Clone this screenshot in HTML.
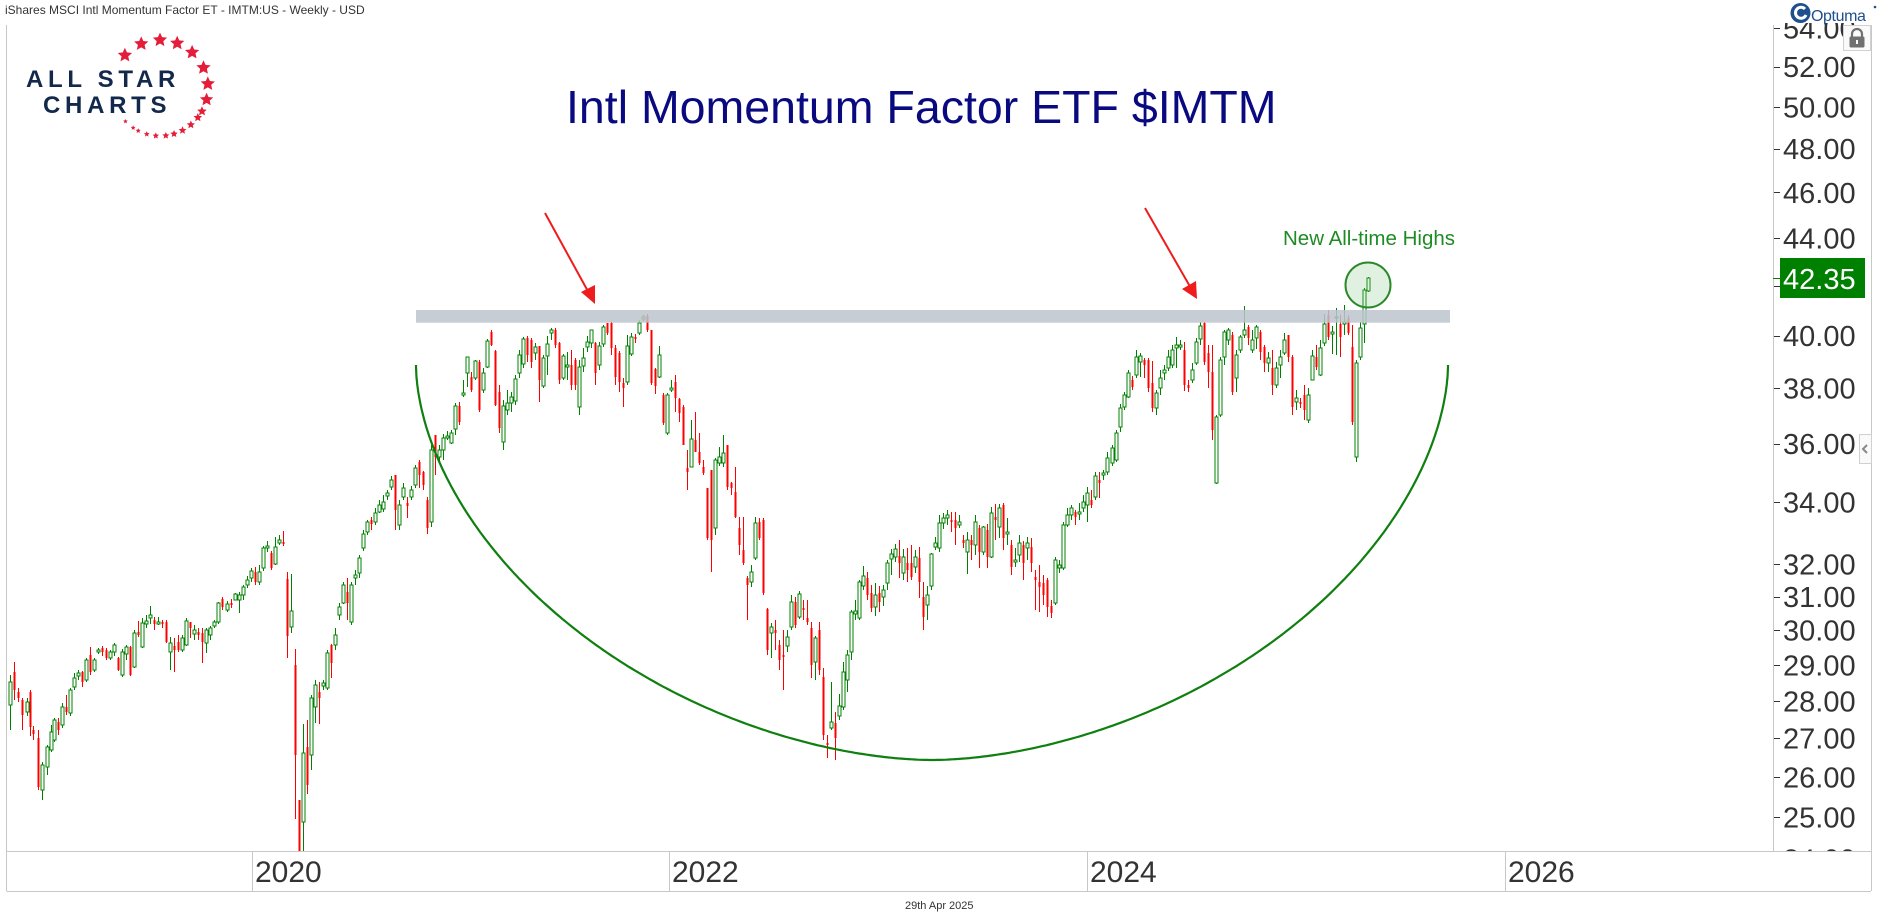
<!DOCTYPE html>
<html>
<head>
<meta charset="utf-8">
<style>
html,body{margin:0;padding:0;background:#fff;}
body{width:1878px;height:924px;overflow:hidden;position:relative;}
svg{position:absolute;left:0;top:0;}
</style>
</head>
<body>
<svg id="chart" width="1878" height="924" viewBox="0 0 1878 924">
  <defs>
    <clipPath id="plot"><rect x="7" y="25" width="1766" height="826"/></clipPath>
    <clipPath id="yax"><rect x="1774" y="23" width="97" height="828"/></clipPath>
  </defs>
  <rect x="0" y="0" width="1878" height="924" fill="#fff"/>
  <!-- header text -->
  <text x="5" y="14" font-family="Liberation Sans, sans-serif" font-size="12" fill="#333">iShares MSCI Intl Momentum Factor ET - IMTM:US - Weekly - USD</text>

  <!-- frame -->
  <g stroke="#c8c8c8" stroke-width="1" fill="none">
    <line x1="6.5" y1="25" x2="6.5" y2="891"/>
    <line x1="1773.5" y1="25" x2="1773.5" y2="851"/>
    <line x1="6.5" y1="851.5" x2="1871" y2="851.5"/>
    <line x1="6.5" y1="891.5" x2="1871" y2="891.5"/>
    <line x1="1871.5" y1="25" x2="1871.5" y2="891"/>
    <line x1="252.5" y1="851" x2="252.5" y2="891"/>
    <line x1="669.5" y1="851" x2="669.5" y2="891"/>
    <line x1="1087.5" y1="851" x2="1087.5" y2="891"/>
    <line x1="1505.5" y1="851" x2="1505.5" y2="891"/>
  </g>
  <g font-family="Liberation Sans, sans-serif" font-size="30" fill="#333">
    <text x="255" y="882">2020</text>
    <text x="672" y="882">2022</text>
    <text x="1090" y="882">2024</text>
    <text x="1508" y="882">2026</text>
  </g>
  <text x="905" y="909" font-family="Liberation Sans, sans-serif" font-size="11" fill="#333">29th Apr 2025</text>

  <!-- y axis -->
  <g id="yaxis"></g>

  <!-- logo -->
  <g id="stars" fill="#e41e3a"></g>
  <g font-family="Liberation Sans, sans-serif" font-weight="bold" font-size="24" fill="#13294b" letter-spacing="4.7">
    <text x="26" y="87">ALL STAR</text>
    <text x="43" y="113">CHARTS</text>
  </g>

  <!-- title -->
  <text x="566" y="123" font-family="Liberation Sans, sans-serif" font-size="46.5" fill="#0a0a80">Intl Momentum Factor ETF $IMTM</text>

  <!-- candles -->
  <g id="candles" clip-path="url(#plot)" shape-rendering="crispEdges"></g>

  <!-- arc -->
  <path id="arc" fill="none" stroke="#0f7f0f" stroke-width="2.2"/>

  <!-- band -->
  <rect x="416" y="310" width="1034" height="12.7" fill="rgb(188,196,206)" fill-opacity="0.85"/>

  <!-- arrows -->
  <g stroke="#ee1c1c" stroke-width="2" fill="#ee1c1c">
    <line x1="545" y1="213" x2="590" y2="295"/>
    <polygon points="595,304 581,292 595,285" stroke="none"/>
    <line x1="1145" y1="208" x2="1192" y2="290"/>
    <polygon points="1197,299 1182,289 1196,281" stroke="none"/>
  </g>

  <!-- ATH annotation -->
  <circle cx="1368" cy="285" r="22.5" fill="rgba(120,190,120,0.22)" stroke="#2a8a2a" stroke-width="2"/>
  <text x="1283" y="245" font-family="Liberation Sans, sans-serif" font-size="20.5" fill="#1f8b24">New All-time Highs</text>

  <!-- price label -->
  <line x1="1773" y1="278.5" x2="1780" y2="278.5" stroke="#008000" stroke-width="1"/>
  <rect x="1780" y="258" width="85" height="40" fill="#008000"/>
  <text x="1783" y="289" font-family="Liberation Sans, sans-serif" font-size="29" fill="#fff">42.35</text>

  <!-- lock -->
  <rect x="1843.5" y="25.5" width="27" height="25" fill="#fafafa" stroke="#d0d0d0"/>
  <path d="M1852,37 v-3 a5,5 0 0 1 10,0 v3" fill="none" stroke="#707070" stroke-width="2.2"/>
  <rect x="1849.5" y="36.5" width="15" height="11" rx="1.5" fill="#707070"/>
  <rect x="1856" y="40" width="2" height="4" fill="#fafafa"/>

  <!-- collapse tab -->
  <rect x="1859.5" y="434.5" width="12" height="29" fill="#fafafa" stroke="#d0d0d0"/>
  <path d="M1867,445 l-4,4 l4,4" fill="none" stroke="#888" stroke-width="2"/>

  <!-- optuma -->
  <circle cx="1800.5" cy="13" r="10" fill="#1e4f8e"/>
  <path d="M1805,9 a5.5,5.5 0 1 0 1,6" fill="none" stroke="#fff" stroke-width="3"/>
  <text x="1811" y="21" font-family="Liberation Sans, sans-serif" font-size="16" fill="#1e4f8e" letter-spacing="-0.4">Optuma</text>
  <circle cx="1875" cy="7" r="1.3" fill="#1e4f8e"/>
</svg>
<script>
(function(){
var D="10,682,705,1,675,730;14,672,690,0,662,700;18,692,698,0,688,702;22,700,715,0,698,730;27,702,712,1,698,716;30,692,727,0,690,736;33,730,734,0,726,740;38,738,787,0,730,790;42,765,790,1,762,800;47,747,767,1,745,775;51,732,750,1,725,752;54,720,740,1,718,742;58,722,730,0,718,735;62,707,725,1,703,728;66,707,712,0,695,715;70,690,713,1,688,716;74,678,687,1,673,690;78,673,676,1,670,680;82,672,682,0,671,687;86,660,680,1,658,682;90,655,672,0,647,675;94,660,670,1,658,672;98,650,652,1,648,654;102,648,652,0,646,656;106,650,658,0,648,660;110,652,658,1,650,660;114,645,652,1,643,656;118,658,670,0,657,671;122,652,675,1,649,677;126,647,654,1,645,660;130,647,675,0,646,676;134,633,667,1,630,668;138,632,635,0,621,637;142,623,647,1,618,648;146,621,624,1,615,628;150,615,618,1,606,624;154,620,624,0,617,630;158,622,624,1,617,625;162,622,624,0,620,628;166,622,642,0,620,643;170,643,652,1,637,670;174,646,650,0,638,672;178,642,650,0,635,652;182,638,650,1,635,652;186,621,645,1,618,646;190,622,628,0,622,638;194,630,634,1,625,640;198,632,635,0,628,640;202,633,642,0,628,663;206,630,643,1,628,653;210,628,635,1,626,640;214,622,626,1,620,628;218,603,622,1,602,624;222,599,607,0,597,610;227,604,610,1,601,612;231,603,605,0,599,608;235,594,600,1,593,600;239,595,600,1,592,613;243,587,595,1,585,600;247,580,585,1,576,588;251,571,578,1,568,582;255,572,582,0,567,585;259,572,582,1,565,585;263,548,568,1,546,571;267,546,548,1,541,552;271,553,568,0,551,570;275,547,564,1,537,565;279,540,543,1,535,545;283,542,544,0,531,546;287,579,636,0,572,658;291,611,627,1,574,633;295,665,755,0,649,819;299,800,851,0,800,851;303,753,822,1,724,851;307,747,785,0,720,794;311,698,755,1,695,770;315,685,707,1,680,723;319,692,698,0,682,724;323,683,686,1,680,690;327,653,688,1,650,690;331,645,663,0,644,678;335,635,645,1,628,650;339,607,615,1,603,620;343,585,603,1,582,604;347,592,603,0,578,620;351,585,622,1,582,625;355,575,578,1,570,585;359,558,573,1,555,578;363,534,548,1,530,551;367,522,532,1,520,535;371,520,524,0,517,530;375,513,522,1,508,525;379,505,512,1,500,513;383,502,509,1,495,512;387,493,496,1,490,500;391,480,487,1,476,490;395,475,510,0,475,530;399,505,525,1,500,530;403,488,497,1,483,500;407,503,506,0,497,518;411,490,497,1,486,500;415,468,485,1,465,488;419,462,475,0,460,488;423,472,485,0,471,490;427,500,528,0,497,534;431,450,522,1,445,527;435,435,457,0,435,475;439,450,457,1,445,462;443,438,450,1,434,460;447,436,438,1,431,440;451,433,443,1,430,444;455,406,429,1,403,435;459,406,422,0,402,425;463,393,395,1,380,397;467,357,373,1,357,387;471,377,390,0,372,392;475,361,378,1,360,380;479,362,410,0,360,412;483,373,390,1,368,393;487,341,367,1,339,368;491,332,345,0,330,346;495,351,405,0,350,406;499,392,428,0,385,433;503,406,442,1,400,450;507,403,410,1,390,415;511,397,403,1,392,412;515,379,401,1,375,405;519,355,373,1,350,378;523,339,364,1,337,368;527,338,355,0,336,362;531,340,362,0,338,368;535,347,353,1,343,360;539,346,380,0,346,402;543,358,386,1,355,388;547,344,356,1,336,375;551,330,333,1,328,340;555,330,345,0,328,348;559,343,380,0,342,384;563,356,378,1,354,380;567,365,367,1,352,380;571,365,385,0,350,390;575,360,385,0,358,390;579,367,407,1,360,415;583,358,366,1,348,372;587,342,347,1,336,352;591,330,343,1,330,348;595,343,373,0,342,385;599,346,365,1,342,370;603,327,344,1,325,347;607,323,333,0,323,335;611,323,348,0,322,355;615,348,377,0,345,385;619,353,382,0,351,392;623,383,388,0,378,407;627,346,382,1,335,385;631,337,354,1,333,356;635,337,339,0,334,343;639,323,333,1,320,335;643,317,319,1,315,321;647,316,330,0,314,332;651,330,383,0,330,385;655,369,386,0,368,394;659,355,377,1,346,378;663,395,423,0,393,425;667,395,433,1,393,435;671,388,390,1,380,392;675,382,398,0,375,412;679,399,413,0,398,422;683,407,445,0,405,445;687,468,472,0,450,490;691,439,467,1,420,467;695,440,452,0,412,452;699,452,463,0,433,465;703,467,473,0,460,475;707,488,538,0,488,540;711,470,540,0,474,572;715,460,528,1,458,535;719,457,463,1,447,466;723,453,463,1,435,467;727,445,487,0,445,490;731,483,488,0,482,495;735,492,517,0,467,518;739,528,545,0,517,555;743,550,563,0,517,565;747,578,585,0,576,620;751,572,582,1,565,587;755,523,558,1,517,560;759,522,538,0,518,540;763,520,593,0,518,595;767,609,650,0,608,655;771,627,633,1,623,658;775,630,633,0,620,650;779,645,660,0,640,670;783,655,657,0,630,690;787,637,646,1,630,652;791,602,627,1,595,630;795,602,625,0,597,628;799,594,617,1,591,619;803,608,610,0,600,620;807,618,622,0,600,625;811,628,665,0,622,678;815,638,662,1,636,680;819,630,670,0,622,675;823,677,735,0,668,740;827,743,745,0,735,758;831,722,728,1,682,730;835,723,738,0,712,760;839,706,716,1,694,720;843,672,707,1,662,710;847,655,680,1,650,692;851,612,652,1,610,660;855,611,614,1,600,620;859,582,618,1,580,620;863,576,586,1,566,590;867,578,595,0,572,600;871,593,608,0,585,612;875,595,607,1,583,616;879,593,602,0,586,612;883,590,597,1,585,606;887,563,583,1,560,590;891,554,559,1,549,575;895,549,557,1,544,562;899,556,563,0,540,578;903,557,573,1,549,580;907,563,570,0,548,582;911,563,577,0,545,580;915,557,567,1,550,573;919,558,582,0,547,598;923,597,617,0,582,630;927,595,605,1,586,620;931,554,586,1,553,590;935,543,547,1,537,550;939,523,548,1,515,552;943,518,523,1,513,529;947,515,518,1,510,525;951,520,522,0,512,532;955,520,528,0,512,545;959,522,525,1,515,528;963,540,543,0,535,548;967,540,552,1,532,574;971,540,545,0,535,560;975,522,545,1,515,555;979,528,552,0,525,568;983,527,552,1,526,555;987,530,557,0,524,568;991,513,557,1,507,558;995,517,520,0,504,540;999,508,527,1,504,538;1003,505,538,0,503,550;1007,532,534,1,518,545;1011,545,567,0,540,575;1015,560,562,1,548,567;1019,543,555,1,535,562;1023,545,563,0,541,580;1027,543,548,1,537,560;1031,547,563,0,538,572;1035,577,580,0,570,610;1039,582,587,0,565,612;1043,583,595,0,575,605;1047,580,607,0,578,617;1051,606,613,0,600,618;1055,560,603,1,557,605;1059,565,568,1,560,573;1063,525,568,1,522,570;1067,515,525,1,508,527;1071,508,515,1,505,520;1075,512,517,0,510,525;1079,512,514,1,503,520;1083,502,508,1,495,512;1087,493,505,1,487,522;1091,500,505,0,490,508;1095,476,497,1,472,500;1099,480,483,0,472,498;1103,473,475,1,470,480;1107,458,472,1,452,475;1112,448,463,1,445,466;1116,433,460,1,430,462;1120,408,427,1,404,432;1124,395,407,1,392,410;1128,373,397,1,370,398;1132,380,387,0,376,390;1136,357,375,1,350,378;1140,356,362,1,353,377;1144,360,365,0,358,378;1148,360,388,0,358,392;1152,383,408,0,361,412;1156,393,408,1,390,415;1160,378,388,1,370,395;1164,370,373,1,365,380;1168,357,368,1,350,371;1172,350,365,1,345,368;1176,345,348,1,337,368;1180,345,347,1,340,350;1184,350,385,0,342,391;1188,385,388,0,380,392;1192,370,380,1,363,383;1196,342,363,1,338,365;1200,326,339,1,322,345;1204,323,362,0,322,365;1208,353,372,0,345,388;1212,372,430,0,345,440;1216,417,483,1,415,484;1220,360,415,1,357,417;1224,332,357,1,330,365;1228,330,340,1,328,345;1232,335,392,0,332,395;1236,355,378,1,350,392;1240,337,350,1,335,353;1244,330,335,1,306,338;1248,327,338,0,325,345;1252,340,350,1,330,353;1256,327,338,1,325,349;1260,332,352,0,330,360;1264,347,363,0,345,372;1268,358,363,1,352,372;1272,368,385,0,350,395;1276,368,385,1,362,388;1280,357,365,1,350,378;1284,340,353,1,333,355;1288,335,357,0,335,362;1292,357,407,0,355,415;1296,398,402,1,390,410;1300,402,404,0,398,408;1304,395,410,0,385,420;1308,395,420,1,388,423;1312,356,380,1,350,380;1316,357,367,0,345,370;1320,348,375,1,340,376;1324,324,343,1,314,346;1328,315,337,0,310,340;1332,332,334,1,326,354;1336,317,318,1,308,355;1340,324,337,0,315,357;1344,322,324,1,305,335;1348,318,333,0,315,335;1352,347,422,0,325,425;1356,363,457,1,360,462;1360,328,357,1,322,360;1364,290,324,1,288,343;1368,278,291,1,277,292";
var s='';
D.split(';').forEach(function(r){
  var a=r.split(',').map(Number);
  var x=a[0],t=a[1],b=a[2],c=a[3],h=a[4],l=a[5];
  var col=c?'#008000':'#ff0000';
  s+='<line x1="'+(x+0.5)+'" y1="'+h+'" x2="'+(x+0.5)+'" y2="'+l+'" stroke="'+col+'" stroke-width="1"/>';
  var hh=Math.max(b-t,1);
  if(c){
    s+='<rect x="'+(x-1)+'" y="'+t+'" width="3" height="'+hh+'" fill="#fff" stroke="'+col+'" stroke-width="1"/>';
  } else {
    s+='<rect x="'+(x-0.5)+'" y="'+t+'" width="2" height="'+hh+'" fill="'+col+'"/>';
  }
});
document.getElementById('candles').innerHTML=s;

// y axis
var ticks=[[54,28],[52,66.7],[50,106.9],[48,148.7],[46,192.3],[44,237.8],[42,285.5],[40,335.5],[38,388],[36,443.5],[34,502],[32,564],[31,596.6],[30,630.2],[29,665],[28,700.9],[27,738.1],[26,776.8],[25,817],[24,858.8]];
var y='';
ticks.forEach(function(t){
  if(t[1]<851) y+='<line x1="1773" y1="'+(Math.round(t[1])+0.5)+'" x2="1780" y2="'+(Math.round(t[1])+0.5)+'" stroke="#333" stroke-width="1"/>';
  if(t[0]!==42) y+='<text x="1783" y="'+(t[1]+10.5)+'" font-family="Liberation Sans, sans-serif" font-size="29" fill="#333">'+t[0].toFixed(2)+'</text>';
});
var ya=document.getElementById('yaxis');
ya.setAttribute('clip-path','url(#yax)');
ya.innerHTML=y;

// stars
function star(cx,cy,R){
  var p=[];for(var i=0;i<10;i++){var r=i%2?R*0.47:R;var an=-Math.PI/2+i*Math.PI/5;p.push((cx+r*Math.cos(an)).toFixed(2)+','+(cy+r*Math.sin(an)).toFixed(2));}
  return '<polygon points="'+p.join(' ')+'"/>';
}
var st=[[-47,7.5],[-23,7.5],[0,7.5],[21,7.5],[42,7.5],[65,7.5],[85,7.5],[104,7],[119,5],[128,4.5],[140,4.3],[152,4.1],[163,3.9],[173,3.7],[185,3.4],[196,3],[207,2.7],[214,2.5],[226,2.4]];
var ss='';
st.forEach(function(q){var an=q[0]*Math.PI/180;ss+=star(160+48*Math.sin(an),88-48*Math.cos(an),q[1]);});
document.getElementById('stars').innerHTML=ss;

// arc: superellipse
var cx=932,cy=365,A=516,B=395,n=1.8,d='';
for(var i=0;i<=400;i++){
  var t=Math.PI*i/400;
  var c=Math.cos(t),sn=Math.sin(t);
  var px=cx-A*(c<0?-1:1)*Math.pow(Math.abs(c),2/n);
  var py=cy+B*Math.pow(Math.abs(sn),2/n);
  d+=(i?' L':'M')+px.toFixed(1)+','+py.toFixed(1);
}
document.getElementById('arc').setAttribute('d',d);
})();
</script>
</body>
</html>
